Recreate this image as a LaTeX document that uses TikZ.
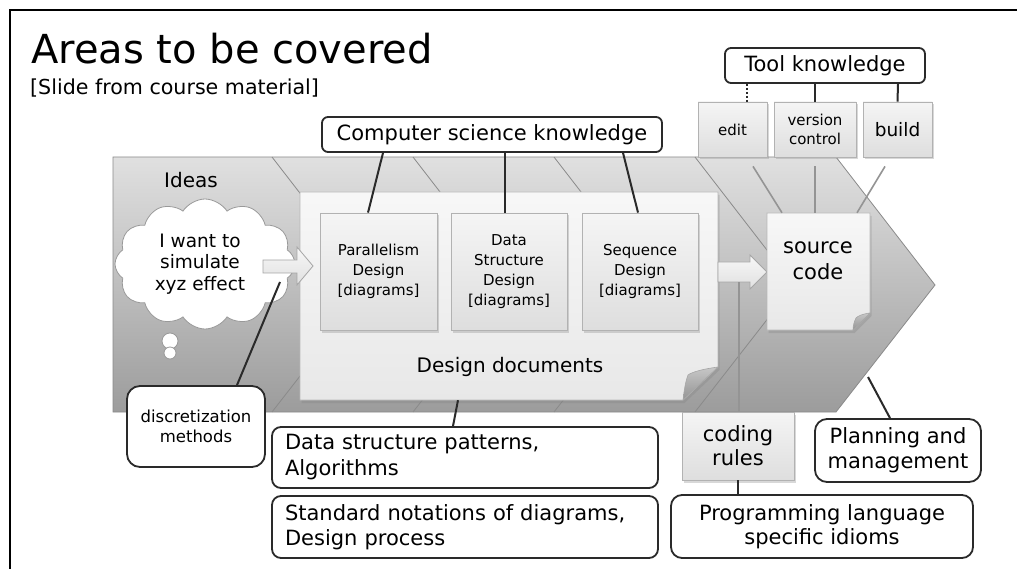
\documentclass[tikz,border=0pt]{standalone}
\usepackage{fontspec}
\setmainfont{DejaVu Sans}
\usetikzlibrary{shapes.symbols,shadows,calc}
\newcommand\fsz[2]{\fontsize{#1}{#2}\selectfont}
\definecolor{chevtop}{HTML}{E0E0E0}
\definecolor{chevbot}{HTML}{9C9C9C}
\definecolor{linegray}{HTML}{8A8A8A}
\definecolor{darkline}{HTML}{2A2A2A}
\tikzset{
  conn/.style={draw=darkline, line width=2pt},
  gconn/.style={draw=black!42, line width=1.6pt},
  rbox/.style={draw=darkline, line width=1.8pt, fill=white, rounded corners=9pt, inner sep=0pt, align=center},
  gbox/.style={draw=black!30, line width=0.8pt, top color=black!4, bottom color=black!13, inner sep=0pt, align=center,
    drop shadow={opacity=0.3, shadow xshift=1.5pt, shadow yshift=-2.5pt}},
  stripe/.style={draw=linegray, line width=0.8pt},
  blockarrow/.style={draw=black!35, line width=0.8pt, top color=black!3, bottom color=black!12},
  pagestyle/.style={draw=black!28, line width=0.8pt, top color=black!3, bottom color=black!9,
    drop shadow={opacity=0.3, shadow xshift=1.5pt, shadow yshift=-3pt}},
  flapstyle/.style={draw=black!35, line width=0.6pt, top color=black!22, bottom color=black!42},
  anchorbox/.style={inner sep=0pt, draw=none},
}
\begin{document}
\begin{tikzpicture}[x=1pt,y=-1pt]
\useasboundingbox (0,0) rectangle (1017,569);
\fill[white] (0,0) rectangle (1017,569);
% frame
\draw[line width=2.5pt, black] (10,569) -- (10,10) -- (1017,10);
% title
\node[anchor=base west, inner sep=0pt, font=\fsz{40}{48}] (title) at (31,64) {Areas to be covered};
\node[anchor=base west, inner sep=0pt, font=\fsz{20.6}{24}] (subtitle) at (30,95) {[Slide from course material]};
% chevron
\path[draw=linegray, line width=0.8pt, top color=chevtop, bottom color=chevbot]
  (113,157) -- (836,157) -- (935,285) -- (836,412) -- (113,412) -- cycle;
\foreach \sx in {272,413,554,695} {
  \draw[stripe] (\sx,157) -- (\sx+99,285) -- (\sx,412);
}
\node[font=\fsz{20}{24}] (ideas) at (191,180) {Ideas};
\coordinate (arrowfoot) at (739,282);
% design documents page
\path[pagestyle] (300,192) -- (718,192) -- (718,367) -- (683,400) -- (300,400) -- cycle;
\path[flapstyle] (718,367) .. controls (703,369) and (692,372) .. (688,375) .. controls (685,383) and (684,392) .. (683,400) -- cycle;
\node[anchorbox, minimum width=418pt, minimum height=208pt] (doc) at (509,296) {};
\node[font=\fsz{20}{24}] (doctxt) at (510,367) {Design documents};
% inner boxes
\node[gbox, minimum width=117pt, minimum height=117pt, font=\fsz{15}{20}] (par) at (378.5,271.5) {Parallelism\\Design\\{[}diagrams]};
\node[gbox, minimum width=116pt, minimum height=117pt, font=\fsz{15}{20}] (dat) at (509,271.5) {Data\\Structure\\Design\\{[}diagrams]};
\node[gbox, minimum width=116pt, minimum height=117pt, font=\fsz{15}{20}] (seq) at (640,271.5) {Sequence\\Design\\{[}diagrams]};
% cloud
\node[cloud, cloud puffs=12, cloud puff arc=115, aspect=1.45, draw=black!40, line width=0.8pt, fill=white,
  minimum width=180pt, minimum height=130pt, inner sep=0pt] (cloud) at (205,264) {};
\draw[black!40, line width=0.8pt, fill=white] (170,341) circle (8pt);
\draw[black!40, line width=0.8pt, fill=white] (170,353) circle (6pt);
\node[font=\fsz{18.5}{21.5}, align=center] (cloudtxt) at (200,264) {I want to\\simulate\\xyz effect};
% arrows
\path[blockarrow] (263,260) -- (297,260) -- (297,247) -- (313,266) -- (297,285) -- (297,273) -- (263,273) -- cycle;
\path[blockarrow] (718,262) -- (750,262) -- (750,255) -- (767,272) -- (750,289) -- (750,282) -- (718,282) -- cycle;
% source code page
\path[pagestyle] (767,213) -- (870,213) -- (870,313) -- (853,330) -- (767,330) -- cycle;
\path[flapstyle] (870,313) .. controls (862,314) and (858,316) .. (856,318) .. controls (854,322) and (853,326) .. (853,330) -- cycle;
\node[anchorbox, minimum width=103pt, minimum height=117pt] (src) at (818.5,271.5) {};
\node[font=\fsz{21}{26}, align=center] (srctxt) at (818,261) {source\\code};
% tool boxes
\node[gbox, minimum width=69pt, minimum height=55pt, font=\fsz{15}{19}] (edit) at (732.5,129.5) {edit};
\node[gbox, minimum width=82pt, minimum height=55pt, font=\fsz{15}{19}] (vc) at (815,129.5) {version\\control};
\node[gbox, minimum width=69pt, minimum height=55pt, font=\fsz{18.5}{22}] (build) at (897.5,129.5) {build};
\node[rbox, rounded corners=6pt, minimum width=200pt, minimum height=35pt, font=\fsz{21}{25}] (tk) at (825,65.5) {Tool knowledge};
% computer science knowledge
\node[rbox, rounded corners=6pt, minimum width=340pt, minimum height=35pt, font=\fsz{21}{25}] (cs) at (492,134.5) {Computer science knowledge};
% bottom boxes
\node[rbox, rounded corners=13pt, minimum width=138pt, minimum height=81pt, font=\fsz{16.5}{20}] (disc) at (196,426.5) {discretization\\methods};
\node[rbox, minimum width=386pt, minimum height=61pt, text width=360pt, inner xsep=13pt, align=left, font=\fsz{21}{26}] (dsp) at (465,457.5) {Data structure patterns,\\Algorithms};
\node[rbox, minimum width=386pt, minimum height=62pt, text width=360pt, inner xsep=13pt, align=left, font=\fsz{21}{25}] (std) at (465,527) {Standard notations of diagrams,\\Design process};
\node[gbox, minimum width=112pt, minimum height=68pt, font=\fsz{21}{24}] (coding) at (738,446) {coding\\rules};
\node[rbox, rounded corners=12pt, minimum width=166pt, minimum height=63pt, font=\fsz{21}{25}] (plan) at (898,450.5) {Planning and\\management};
\node[rbox, rounded corners=11pt, minimum width=302pt, minimum height=63pt, font=\fsz{21}{24}] (prog) at (822,526.5) {Programming language\\specific idioms};
% connectors
\draw[conn] ($(cs.south)+(-109,0)$) -- ($(par.north)+(-10.5,0)$);
\draw[conn] ($(cs.south)+(13,0)$) -- ($(dat.north)+(-4,0)$);
\draw[conn] ($(cs.south)+(131,0)$) -- ($(seq.north)+(-2,0)$);
\draw[conn, dotted, line width=2.2pt] ($(tk.south)+(-78,0)$) -- ($(edit.north)+(14.5,0)$);
\draw[conn] ($(tk.south)+(-10,0)$) -- (vc.north);
\draw[conn] ($(tk.south)+(73,0)$) -- (build.north);
\draw[gconn] ($(edit.south)+(20.5,9)$) -- ($(src.north)+(-36.5,0)$);
\draw[gconn] ($(vc.south)+(0,9)$) -- ($(src.north)+(-3.5,0)$);
\draw[gconn] ($(build.south)+(-12.5,9)$) -- ($(src.north)+(38.5,0)$);
\draw[gconn] (coding.north -| arrowfoot) -- (arrowfoot);
\draw[conn] (coding.south) -- (prog.north -| coding.south);
\coordinate (planend) at (868,377);
\draw[conn] ($(plan.north)+(-8,0)$) -- (planend);
\draw[conn] ($(dsp.north)+(-12,0)$) -- ($(doc.south)+(-51,0)$);
\coordinate (cloudend) at (280,282);
\draw[conn] ($(disc.north)+(41,0)$) -- (cloudend);
\end{tikzpicture}
\end{document}
